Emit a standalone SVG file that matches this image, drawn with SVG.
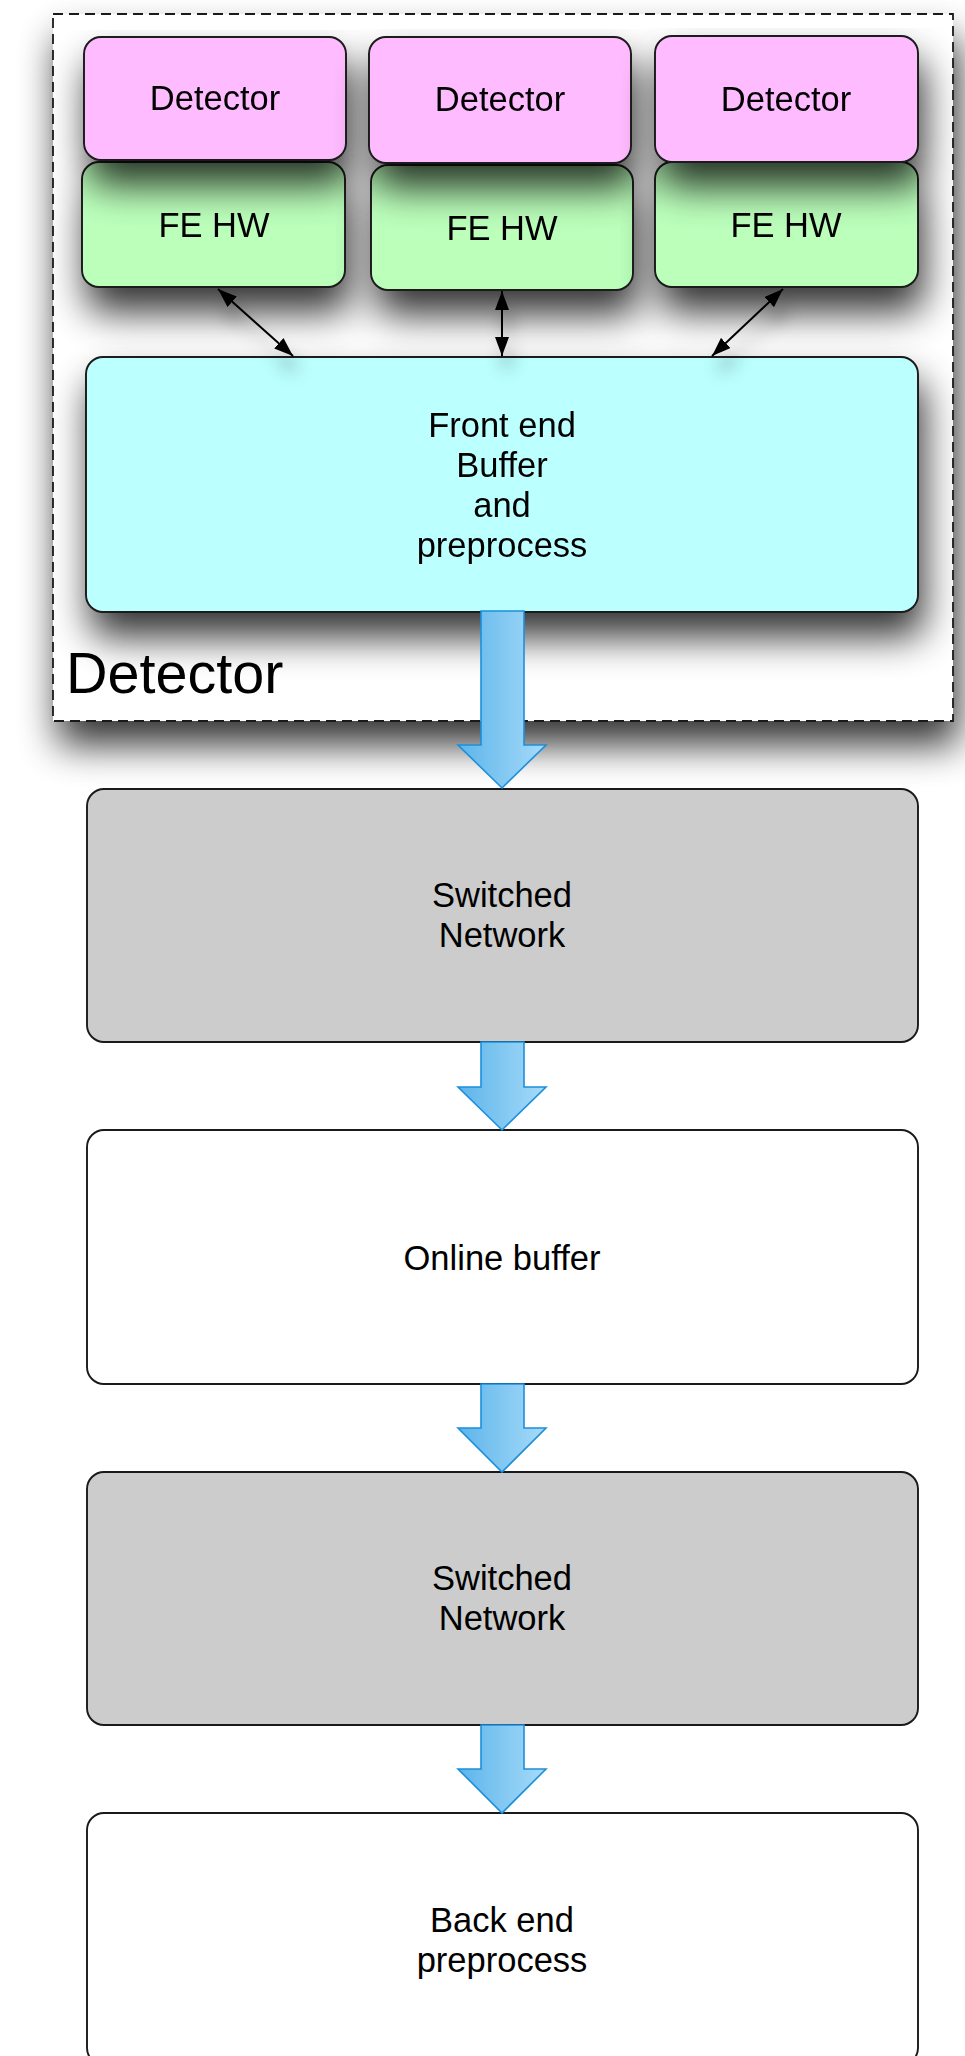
<svg xmlns="http://www.w3.org/2000/svg" width="965" height="2056" viewBox="0 0 965 2056">
  <defs>
    <filter id="shadow" x="-15%" y="-25%" width="140%" height="180%">
      <feGaussianBlur in="SourceAlpha" stdDeviation="19"/>
      <feOffset dx="5" dy="24" result="blur"/>
      <feComponentTransfer><feFuncA type="linear" slope="0.8"/></feComponentTransfer>
      <feMerge><feMergeNode/><feMergeNode in="SourceGraphic"/></feMerge>
    </filter>
    <filter id="lineShadow" x="-60%" y="-60%" width="220%" height="220%">
      <feGaussianBlur in="SourceAlpha" stdDeviation="9"/>
      <feOffset dx="5" dy="16"/>
      <feComponentTransfer><feFuncA type="linear" slope="0.35"/></feComponentTransfer>
      <feMerge><feMergeNode/><feMergeNode in="SourceGraphic"/></feMerge>
    </filter>
    <linearGradient id="flow" x1="0" y1="0" x2="1" y2="0">
      <stop offset="0" stop-color="#5db4ea"/>
      <stop offset="1" stop-color="#a6dbf9"/>
    </linearGradient>
    <marker id="head" viewBox="0 0 19 14" refX="19" refY="7" markerWidth="19" markerHeight="14" markerUnits="userSpaceOnUse" orient="auto-start-reverse">
      <path d="M0,0 L19,7 L0,14 Z" fill="#000"/>
    </marker>
    <style>
      .box { stroke: #1a1a1a; stroke-width: 1.9; }
      .det { fill: #ffbbff; }
      .fe { fill: #bbffbb; }
      .buf { fill: #bbffff; }
      .net { fill: #cccccc; }
      .plain { fill: #ffffff; }
      .lbl { font-family: "Liberation Sans", Arial, Helvetica, sans-serif; font-size: 34.5px; fill: #000; text-anchor: middle; }
      .link { stroke: #000; stroke-width: 2; fill: none; marker-start: url(#head); marker-end: url(#head); }
      .flow { fill: url(#flow); stroke: #1c8fdc; stroke-width: 1.6; stroke-linejoin: miter; }
    </style>
  </defs>

  <!-- detector enclosure -->
  <g id="detector-group">
    <rect x="53" y="14" width="900" height="707" fill="#ffffff" filter="url(#shadow)"/>
    <rect x="53" y="14" width="900" height="707" fill="none" stroke="#1a1a1a" stroke-width="1.8" stroke-dasharray="10,6"/>
    <text x="66" y="693" style="font-family: 'Liberation Sans', Arial, Helvetica, sans-serif; font-size: 57.5px; fill: #000;">Detector</text>
  </g>

  <!-- readout chain inside the detector -->
  <g id="fe-hw-1" filter="url(#shadow)">
    <rect class="box fe" x="82" y="162" width="263" height="125" rx="17"/>
    <text class="lbl" x="214" y="237">FE HW</text>
  </g>
  <g id="fe-hw-2" filter="url(#shadow)">
    <rect class="box fe" x="371" y="165" width="262" height="125" rx="17"/>
    <text class="lbl" x="502" y="240">FE HW</text>
  </g>
  <g id="fe-hw-3" filter="url(#shadow)">
    <rect class="box fe" x="655" y="162" width="263" height="125" rx="17"/>
    <text class="lbl" x="786" y="237">FE HW</text>
  </g>
  <g id="detector-1" filter="url(#shadow)">
    <rect class="box det" x="84" y="37" width="262" height="123" rx="17"/>
    <text class="lbl" x="215" y="110">Detector</text>
  </g>
  <g id="detector-2" filter="url(#shadow)">
    <rect class="box det" x="369" y="37" width="262" height="126" rx="17"/>
    <text class="lbl" x="500" y="111">Detector</text>
  </g>
  <g id="detector-3" filter="url(#shadow)">
    <rect class="box det" x="655" y="36" width="263" height="126" rx="17"/>
    <text class="lbl" x="786" y="111">Detector</text>
  </g>
  <g id="front-end-buffer" filter="url(#shadow)">
    <rect class="box buf" x="86" y="357" width="832" height="255" rx="17"/>
    <text class="lbl" x="502" y="437">Front end</text>
    <text class="lbl" x="502" y="477">Buffer</text>
    <text class="lbl" x="502" y="517">and</text>
    <text class="lbl" x="502" y="557">preprocess</text>
  </g>

  <!-- downstream stages -->
  <g id="switched-network-1">
    <rect class="box net" x="87" y="789" width="831" height="253" rx="17"/>
    <text class="lbl" x="502" y="907">Switched</text>
    <text class="lbl" x="502" y="947">Network</text>
  </g>
  <g id="online-buffer">
    <rect class="box plain" x="87" y="1130" width="831" height="254" rx="17"/>
    <text class="lbl" x="502" y="1270">Online buffer</text>
  </g>
  <g id="switched-network-2">
    <rect class="box net" x="87" y="1472" width="831" height="253" rx="17"/>
    <text class="lbl" x="502" y="1590">Switched</text>
    <text class="lbl" x="502" y="1630">Network</text>
  </g>
  <g id="back-end-preprocess">
    <rect class="box plain" x="87" y="1813" width="831" height="252" rx="17"/>
    <text class="lbl" x="502" y="1932">Back end</text>
    <text class="lbl" x="502" y="1972">preprocess</text>
  </g>

  <!-- connectors -->
  <g id="connectors">
    <g filter="url(#lineShadow)">
      <line class="link" x1="218" y1="289" x2="293" y2="356"/>
      <line class="link" x1="502" y1="291" x2="502" y2="356"/>
      <line class="link" x1="783" y1="289" x2="712" y2="356"/>
    </g>
    <path class="flow" d="M481,611 H524 V745 H546 L502,788 L458,745 H481 Z"/>
    <path class="flow" d="M481,1042 H524 V1087 H546 L502,1130 L458,1087 H481 Z"/>
    <path class="flow" d="M481,1384 H524 V1428 H546 L502,1472 L458,1428 H481 Z"/>
    <path class="flow" d="M481,1725 H524 V1769 H546 L502,1813 L458,1769 H481 Z"/>
  </g>
</svg>
